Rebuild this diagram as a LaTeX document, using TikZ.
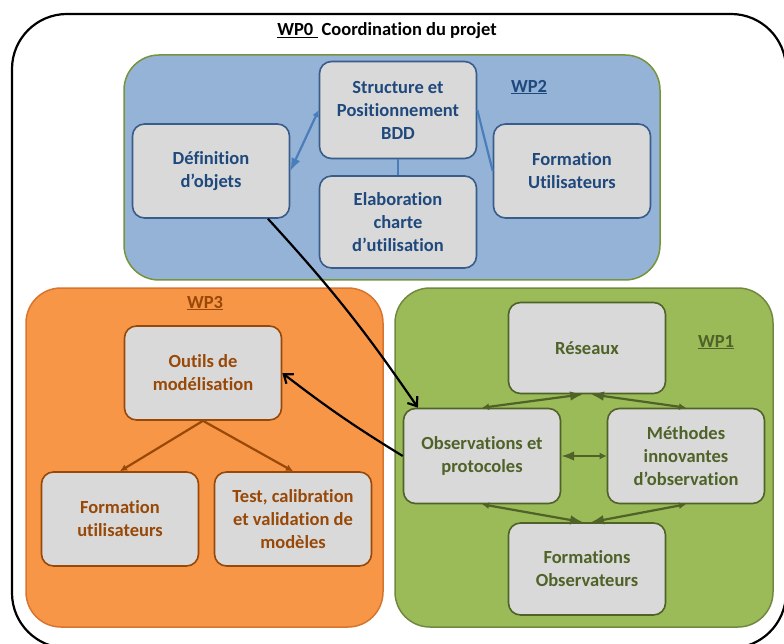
\documentclass[tikz,border=0pt]{standalone}
\usepackage{fontspec}
\setmainfont{Carlito}[Ligatures=NoCommon]
\usetikzlibrary{arrows.meta}
\definecolor{boxgray}{HTML}{D9D9D9}
\definecolor{wpblue}{HTML}{95B3D7}
\definecolor{wpolive}{HTML}{77933C}
\definecolor{blueline}{HTML}{385D8A}
\definecolor{bluetext}{HTML}{1F497D}
\definecolor{bluearrow}{HTML}{4A7EBB}
\definecolor{wporange}{HTML}{F79646}
\definecolor{orangeedge}{HTML}{D9742F}
\definecolor{brown}{HTML}{984807}
\definecolor{wpgreen}{HTML}{9BBB59}
\definecolor{greenedge}{HTML}{71893F}
\definecolor{darkgreen}{HTML}{4F6228}
\begin{document}
\begin{tikzpicture}
  [x=1pt,y=-1pt,every node/.style={font=\bfseries\fontsize{18.5}{23}\selectfont,align=center},
  box/.style={draw,fill=boxgray,rounded corners=12pt,line width=1.6pt,
    minimum width=157pt,minimum height=94pt,inner sep=1pt},
  link/.style={line width=2.2pt},
  tip/.style={arrows={#1[length=7pt,width=7pt]}}]
  \useasboundingbox (0,0) rectangle (784,644);

  % WP0 and the three work packages
  \draw[line width=2.2pt,rounded corners=55pt] (12,14) rectangle (786,648);
  \draw[fill=wpblue,draw=wpolive,line width=1.5pt,rounded corners=35pt] (124,55) rectangle (660,280);
  \draw[fill=wporange,draw=orangeedge,line width=1.5pt,rounded corners=35pt] (26,288) rectangle (383,627);
  \draw[fill=wpgreen,draw=greenedge,line width=1.5pt,rounded corners=35pt] (395,288) rectangle (773,627);

  \node (wp0) at (387,31) {\underline{WP0\ }\ Coordination du projet};
  \node[text=bluetext] (wp2) at (529,87) {\underline{WP2}};
  \node[text=brown] (wp3) at (205,303) {\underline{WP3}};
  \node[text=darkgreen] (wp1) at (716,342) {\underline{WP1}};

  % WP2
  \node[box,draw=blueline,text=bluetext] (def) at (211,171) {Définition\\d’objets};
  \node[box,draw=blueline,text=bluetext,minimum height=97pt] (struct) at (398,110) {Structure et\\Positionnement\\BDD};
  \node[box,draw=blueline,text=bluetext,minimum height=92pt] (elab) at (398,222) {Elaboration\\charte\\d’utilisation};
  \node[box,draw=blueline,text=bluetext] (formU) at (572,171) {Formation\\Utilisateurs};

  % WP3
  \node[box,draw=brown,text=brown] (outils) at (203,373) {Outils de\\modélisation};
  \node[box,draw=brown,text=brown] (formUt) at (120,519) {Formation\\utilisateurs};
  \node[box,draw=brown,text=brown] (test) at (293,519) {Test, calibration\\et validation de\\modèles};

  % WP1
  \node[box,draw=darkgreen,text=darkgreen,minimum height=91pt] (res) at (587,348) {Réseaux};
  \node[box,draw=darkgreen,text=darkgreen,minimum height=95pt] (obs) at (482,456) {Observations et\\protocoles};
  \node[box,draw=darkgreen,text=darkgreen,minimum height=95pt] (meth) at (686,456) {Méthodes\\innovantes\\d’observation};
  \node[box,draw=darkgreen,text=darkgreen,minimum height=92pt] (formO) at (587,569) {Formations\\Observateurs};

  \draw[link,bluearrow,tip=Latex-Latex] (def.east) -- (struct.west);
  \draw[link,bluearrow] (struct.east) -- (formU.west);
  \draw[link,bluearrow] (struct.south) -- (elab.north);

  \draw[link,brown,tip=-Latex] (outils.south) -- (formUt.north);
  \draw[link,brown,tip=-Latex] (outils.south) -- (test.north);

  \draw[link,darkgreen,tip=Latex-Latex] ([xshift=-4pt]res.south) -- (obs.north);
  \draw[link,darkgreen,tip=Latex-Latex] ([xshift=4pt]res.south) -- (meth.north);
  \draw[link,darkgreen,tip=Latex-Latex] (obs.east) -- (meth.west);
  \draw[link,darkgreen,tip=Latex-Latex] ([xshift=-4pt]formO.north) -- (obs.south);
  \draw[link,darkgreen,tip=Latex-Latex] ([xshift=4pt]formO.north) -- (meth.south);

  \draw[link,black,-{Straight Barb[length=8pt,width=12pt]}] (def.-40) to[bend left=4] (obs.143);
  \draw[link,black,-{Straight Barb[length=8pt,width=12pt]}] (obs.west) to[bend left=3] (outils.east);

\end{tikzpicture}
\end{document}
